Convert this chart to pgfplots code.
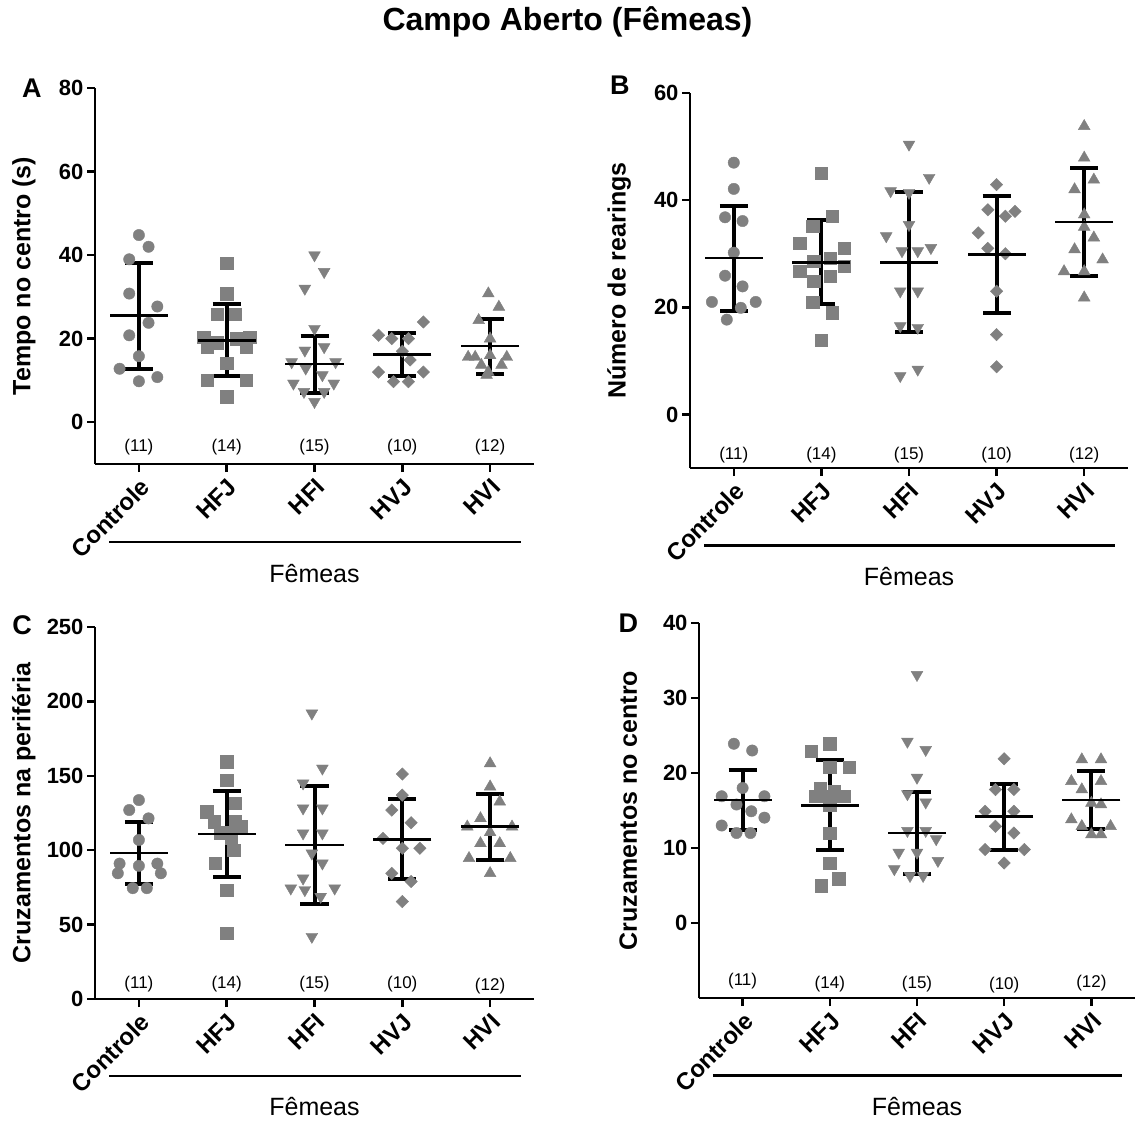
\documentclass[border=0pt]{standalone}
\usepackage{fontspec}
\setmainfont{Liberation Sans}
\usepackage{pgfplots}
\pgfplotsset{compat=1.18}

\definecolor{ptgray}{HTML}{808080}

\newcommand{\fs}[1]{\fontsize{#1}{#1}\selectfont}

\pgfplotsset{
  panel/.style={
    scale only axis, width=439pt, height=376pt,
    axis x line*=bottom, axis y line*=left,
    xmin=-0.5, xmax=4.5,
    xtick={0,1,2,3,4}, xticklabels={Controle,HFJ,HFI,HVJ,HVI},
    tick align=outside, major tick length=8pt,
    every tick/.append style={black, line width=2.5pt},
    axis line style={line width=2.5pt},
    /pgf/number format/assume math mode=true,
    xticklabel style={font=\bfseries\fs{24}, rotate=45, anchor=north east},
    yticklabel style={font=\bfseries\fs{22}},
    ylabel style={font=\bfseries\fs{25}, at={(axis description cs:-0.162,0.5)}, anchor=center},
    clip=false,
  },
  pc/.style={only marks, mark=*, mark size=5.7pt, color=ptgray},
  ps/.style={only marks, mark=square*, mark size=6.2pt, color=ptgray},
  pd/.style={only marks, mark=triangle*, mark size=6.8pt, mark options={rotate=180}, color=ptgray},
  pr/.style={only marks, mark=square*, mark size=4.4pt, mark options={rotate=45}, color=ptgray},
  pu/.style={only marks, mark=triangle*, mark size=6.8pt, color=ptgray},
  msd/.style={only marks, mark=-, mark size=29pt, black, mark options={line width=2.6pt},
    error bars/.cd, y dir=both, y explicit,
    error bar style={line width=4pt, black},
    error mark options={rotate=90, line width=4pt, mark size=14pt, black}},
}

\newcommand{\groupline}{%
  \draw[line width=2.5pt] (rel axis cs:0.032,-0.207) -- (rel axis cs:0.970,-0.207);
  \node[font=\fs{25}] at (rel axis cs:0.5,-0.29) {Fêmeas};
}

\begin{document}
\begin{tikzpicture}

\node[font=\bfseries\fs{32}] at (567.5pt,-22pt) {Campo Aberto (Fêmeas)};

% A
\begin{axis}[panel, at={(95pt,-464pt)}, anchor=south west,
  ymin=-10, ymax=80, ytick={0,20,40,60,80},
  ylabel={Tempo no centro (s)}]
\addplot[pc] coordinates {(0,44.8) (0.11,42) (-0.11,39) (-0.11,30.8) (0.21,27.7) (0.11,23.8) (-0.11,20.8) (0,15.8) (-0.22,12.8) (0.21,10.8) (0,9.8)};
\addplot[ps] coordinates {(1,38) (1,30.8) (0.89,25.9) (1.1,25.9) (0.74,20.4) (1.26,20.4) (0.78,18) (1.22,18) (1.11,20) (0.89,19) (1,14.1) (0.78,10.1) (1.22,10.1) (1,6.1)};
\addplot[pd] coordinates {(2,40) (2.11,36) (1.89,32) (2,22.4) (2.11,18) (1.89,17.2) (1.74,14.4) (2.24,14.4) (1.9,12.9) (2.09,11.3) (1.76,9.3) (2.22,9.3) (1.88,7.3) (2.11,7.3) (2,4.9)};
\addplot[pr] coordinates {(3.24,24) (2.73,20.8) (2.88,20) (3.07,20) (3,17) (3.09,14.9) (2.73,12) (3.24,12) (2.9,9.7) (3.07,9.7)};
\addplot[pu] coordinates {(3.98,30.8) (4.1,27.6) (3.87,24.4) (4,20) (4,16) (3.75,15.6) (3.83,15.6) (4.19,15.6) (3.9,13.7) (4.13,13.7) (3.98,12) (3.96,11.3)};
\addplot[msd] coordinates {(0,25.5) +- (0,12.7) (1,19.6) +- (0,8.6) (2,13.9) +- (0,6.8) (3,16.2) +- (0,5.2) (4,18.2) +- (0,6.6)};
\node[font=\fs{17}] at (axis cs:0,-6) {(11)};
\node[font=\fs{17}] at (axis cs:1,-6) {(14)};
\node[font=\fs{17}] at (axis cs:2,-6) {(15)};
\node[font=\fs{17}] at (axis cs:3,-6) {(10)};
\node[font=\fs{17}] at (axis cs:4,-6) {(12)};
\node[font=\bfseries\fs{27}] at (axis description cs:-0.144,1.0) {A};
\groupline
\end{axis}

% B
\begin{axis}[panel, width=438pt, height=375pt, at={(690pt,-468pt)}, anchor=south west,
  ymin=-10, ymax=60, ytick={0,20,40,60},
  ylabel={Número de rearings}]
\addplot[pc] coordinates {(0,47) (0,42.1) (-0.1,36.8) (0.1,36.1) (0,30.2) (-0.1,25.9) (0.1,23.9) (-0.25,21) (0.25,21) (0.08,19.9) (-0.08,17.7)};
\addplot[ps] coordinates {(1,45) (1.12,37) (0.9,35.1) (0.75,32) (1.26,31) (1.1,29.2) (0.91,28.6) (1.26,27.7) (0.75,26.7) (1.1,25.8) (0.91,24.9) (0.9,21) (1.12,19) (1,13.9)};
\addplot[pd] coordinates {(2,50.4) (2.23,44.2) (1.79,41.7) (2,41.4) (2,35.4) (1.74,33.3) (2.25,31.1) (1.92,30.5) (2.1,30.5) (1.9,23) (2.1,23) (1.9,16.5) (2.1,16.2) (2.1,8.4) (1.9,7.2)};
\addplot[pr] coordinates {(3,42.9) (2.9,38.2) (3.21,37.9) (3.1,37) (2.79,33.9) (2.9,31) (3.1,30) (3,23) (3,14.9) (3,8.9)};
\addplot[pu] coordinates {(4,53.8) (4,47.9) (4.11,43.8) (3.89,42) (4,37.3) (4,35) (4.11,33) (3.89,30.8) (4.21,28.9) (3.77,26.7) (4,26.7) (4,21.8)};
\addplot[msd] coordinates {(0,29.2) +- (0,9.8) (1,28.4) +- (0,7.85) (2,28.4) +- (0,13.05) (3,29.9) +- (0,10.95) (4,35.9) +- (0,10.1)};
\node[font=\fs{17}] at (axis cs:0,-7.5) {(11)};
\node[font=\fs{17}] at (axis cs:1,-7.5) {(14)};
\node[font=\fs{17}] at (axis cs:2,-7.5) {(15)};
\node[font=\fs{17}] at (axis cs:3,-7.5) {(10)};
\node[font=\fs{17}] at (axis cs:4,-7.5) {(12)};
\node[font=\bfseries\fs{27}] at (axis description cs:-0.16,1.02) {B};
\groupline
\end{axis}

% C
\begin{axis}[panel, height=372pt, at={(95pt,-999pt)}, anchor=south west,
  ymin=0, ymax=250, ytick={0,50,100,150,200,250},
  ylabel={Cruzamentos na periféria}]
\addplot[pc] coordinates {(0,133.7) (-0.11,127) (0.11,121.4) (0,106.9) (-0.22,91) (0,89.5) (0.21,91) (-0.24,84.5) (0.25,84.5) (-0.07,74.5) (0.09,74.5)};
\addplot[ps] coordinates {(1,159.5) (1,147.2) (1.1,131.5) (0.77,125.9) (0.86,119.2) (1.1,119.2) (1.16,115.8) (0.93,111.3) (1,112) (1.05,108) (1.08,100.1) (0.87,91.2) (1,73.3) (1,44.1)};
\addplot[pd] coordinates {(1.97,192) (2.09,155) (1.87,145) (1.87,128.2) (2.09,128.2) (1.87,111.4) (2.09,111.4) (1.97,97.9) (2.09,91.2) (1.87,81.1) (1.73,74.4) (2.23,74.4) (1.89,73.3) (2.07,68.8) (1.97,41.9)};
\addplot[pr] coordinates {(3,151.2) (3,137) (2.88,127) (3.1,118.5) (2.78,108) (3,101.3) (3.2,101.3) (2.88,84.5) (3.1,79) (3,65.5)};
\addplot[pu] coordinates {(4,158.3) (4,142.7) (4.11,132.6) (3.89,121.4) (3.74,115.8) (4.25,115.8) (4,112) (3.89,104.6) (4.11,104.6) (3.76,94.6) (4.23,94.6) (4,84.5)};
\addplot[msd] coordinates {(0,98) +- (0,20.65) (1,110.9) +- (0,29.15) (2,103.5) +- (0,39.65) (3,107.3) +- (0,26.85) (4,115.8) +- (0,22.15)};
\node[font=\fs{17}] at (axis cs:0,10) {(11)};
\node[font=\fs{17}] at (axis cs:1,10) {(14)};
\node[font=\fs{17}] at (axis cs:2,10) {(15)};
\node[font=\fs{17}] at (axis cs:3,10) {(10)};
\node[font=\fs{17}] at (axis cs:4,9) {(12)};
\node[font=\bfseries\fs{27}] at (axis description cs:-0.166,1.005) {C};
\groupline
\end{axis}

% D
\begin{axis}[panel, width=436pt, height=375pt, at={(699pt,-998pt)}, anchor=south west,
  ymin=-10, ymax=40, ytick={0,10,20,30,40},
  ylabel={Cruzamentos no centro}]
\addplot[pc] coordinates {(-0.1,23.9) (0.11,23) (0,18) (-0.24,16.9) (0.25,16.9) (-0.07,15.8) (0.1,14.9) (0.25,14.05) (-0.24,13) (-0.07,12) (0.09,12)};
\addplot[ps] coordinates {(1,23.9) (0.79,22.9) (1.22,20.8) (1,20.8) (0.89,18) (0.84,16.9) (1.16,16.9) (1,16.9) (1.05,17.5) (1,15.8) (1,12) (1,8) (1.1,5.9) (0.9,5)};
\addplot[pd] coordinates {(2,33.1) (1.89,24.2) (2.1,23.1) (2,19.4) (1.89,17.2) (2.1,16.1) (1.89,12.3) (2.1,12.3) (2.22,11.2) (1.79,9.4) (2,9.4) (2.24,8.3) (1.74,7.2) (1.92,6.3) (2.07,6.3)};
\addplot[pr] coordinates {(3,21.9) (2.9,17.8) (3.11,17.8) (2.78,14.9) (3.11,14.9) (2.9,12.9) (3.11,12) (2.78,9.8) (3.23,9.8) (3,8)};
\addplot[pu] coordinates {(3.89,21.8) (4.11,21.8) (3.77,18.9) (4.11,18.9) (3.89,17.8) (4,16) (4.11,15.8) (3.77,13.8) (3.89,12.9) (4.22,12.9) (4,11.8) (4.11,11.8)};
\addplot[msd] coordinates {(0,16.4) +- (0,4.05) (1,15.7) +- (0,6) (2,12) +- (0,5.45) (3,14.2) +- (0,4.4) (4,16.4) +- (0,3.85)};
\node[font=\fs{17}] at (axis cs:0,-7.8) {(11)};
\node[font=\fs{17}] at (axis cs:1,-8.1) {(14)};
\node[font=\fs{17}] at (axis cs:2,-8.1) {(15)};
\node[font=\fs{17}] at (axis cs:3,-8.3) {(10)};
\node[font=\fs{17}] at (axis cs:4,-8) {(12)};
\node[font=\bfseries\fs{27}] at (axis description cs:-0.162,1.0) {D};
\groupline
\end{axis}

\pgfresetboundingbox
\useasboundingbox (0,0) rectangle (1135pt,-1120pt);
\end{tikzpicture}
\end{document}
